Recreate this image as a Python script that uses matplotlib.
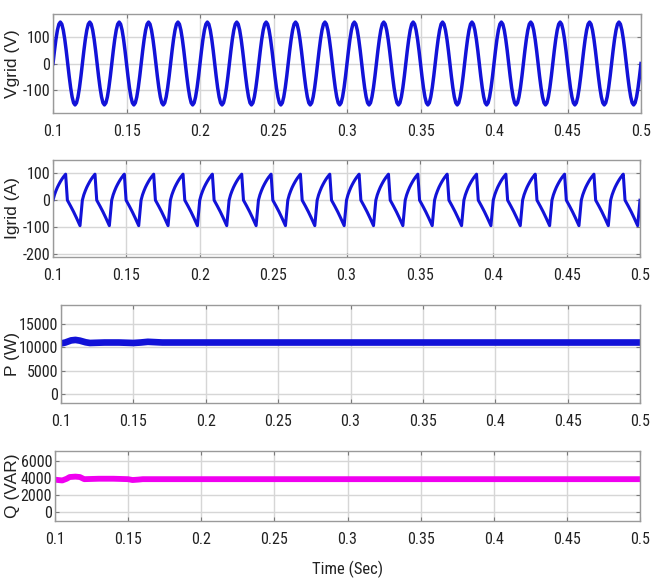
import numpy as np
import matplotlib
matplotlib.use("Agg")
import matplotlib.pyplot as plt
from matplotlib import font_manager

# ---------------- data ----------------
t_start = 0.1
t_end = 0.5
n_cycles = 20
sample_ms = 1.0

# one grid-voltage cycle, sampled every 1 ms (V)
v_cycle = [0, 49, 93, 128, 151, 159, 151, 128, 93, 49,
           0, -49, -93, -128, -151, -159, -151, -128, -93, -49]

# one grid-current cycle: time in ms inside the cycle, value (A)
i_cycle_ms = [0, 1, 2, 3, 4, 5, 6, 7, 8, 8.6, 9.8, 12, 14, 16, 18.4]
i_cycle_val = [0, 20, 35, 48, 59, 69, 78, 86, 93, 97, 0, -22, -43, -66, -95]
cycle_ms = 20.0

# active power (W)
p_t = [0.100, 0.103, 0.107, 0.110, 0.113, 0.117, 0.120, 0.130, 0.140,
       0.150, 0.155, 0.160, 0.170, 0.200, 0.300, 0.400, 0.500]
p_val = [10800, 11000, 11450, 11550, 11400, 11050, 10900, 11000, 11000,
         10900, 11000, 11150, 11000, 11000, 11000, 11000, 11000]

# reactive power (VAR)
q_t = [0.100, 0.102, 0.105, 0.108, 0.110, 0.114, 0.117, 0.120, 0.130,
       0.140, 0.150, 0.153, 0.157, 0.160, 0.200, 0.300, 0.400, 0.500]
q_val = [3850, 3800, 3750, 3950, 4150, 4200, 4150, 3900, 3950,
         3950, 3900, 3800, 3850, 3900, 3900, 3900, 3900, 3900]

x_ticks = [0.1, 0.15, 0.2, 0.25, 0.3, 0.35, 0.4, 0.45, 0.5]
x_tick_labels = ["0.1", "0.15", "0.2", "0.25", "0.3", "0.35", "0.4", "0.45", "0.5"]
v_ticks = [-100, 0, 100]
i_ticks = [-200, -100, 0, 100]
p_ticks = [0, 5000, 10000, 15000]
q_ticks = [0, 2000, 4000, 6000]

ylabels = ["Vgrid (V)", "Igrid (A)", "P (W)", "Q (VAR)"]
xlabel = "Time (Sec)"

# ---------------- build series ----------------
v_full = np.array(v_cycle * n_cycles + [v_cycle[0]], dtype=float)
v_time = t_start + np.arange(len(v_full)) * sample_ms / 1000.0

i_time, i_full = [], []
for k in range(n_cycles):
    for ms, val in zip(i_cycle_ms, i_cycle_val):
        i_time.append(t_start + (k * cycle_ms + ms) / 1000.0)
        i_full.append(val)
i_time.append(t_end)
i_full.append(i_cycle_val[0])

# ---------------- fonts ----------------
installed = {f.name for f in font_manager.fontManager.ttflist}
condensed = [f for f in font_manager.fontManager.ttflist
             if f.stretch in ("condensed", "semi-condensed", "extra-condensed")
             or "Narrow" in f.name or "Condensed" in f.name]
narrow_names = []
for cand in ["Liberation Sans Narrow", "DejaVu Sans Condensed", "Roboto Condensed",
             "Open Sans Condensed", "Noto Sans Condensed"]:
    if cand in installed:
        narrow_names.append(cand)
use_stretch = None
if not narrow_names:
    for f in condensed:
        narrow_names.append(f.name)
        use_stretch = f.stretch
        break
have_narrow = len(narrow_names) > 0
tick_font = narrow_names[:1] + ["Liberation Sans", "DejaVu Sans"]
label_font = ["Liberation Sans", "DejaVu Sans"]
tick_size = 11.5 if have_narrow else 10

# ---------------- figure ----------------
W, H = 651, 581
fig = plt.figure(figsize=(W / 100, H / 100), dpi=100)
fig.patch.set_facecolor("white")

# axes boxes in pixels: left, right, top, bottom
boxes = [(53, 641, 14, 113), (53, 640, 160, 257), (61, 640, 305, 403), (55, 640, 451, 521)]

blue = "#1212d8"
magenta = "#f000f0"


def make_ax(box):
    l, r, t, b = box
    return fig.add_axes([l / W, 1 - b / H, (r - l) / W, (b - t) / H])


def set_font(txt):
    txt.set_family(tick_font)
    txt.set_fontsize(tick_size)
    if use_stretch:
        txt.set_stretch(use_stretch)


def style(ax, yticks, ylim):
    ax.set_xlim(t_start, t_end)
    ax.set_ylim(*ylim)
    ax.set_xticks(x_ticks)
    ax.set_xticklabels(x_tick_labels)
    ax.set_yticks(yticks)
    ax.set_yticklabels([str(v) for v in yticks])
    ax.grid(True, color="#d6d6d6", linewidth=1.0, linestyle="-")
    ax.set_axisbelow(True)
    for s in ax.spines.values():
        s.set_color("#9a9a9a")
        s.set_linewidth(1.0)
    ax.tick_params(axis="both", direction="in", length=3, color="#7a7a7a",
                   labelcolor="#222222", top=True, right=True)
    ax.tick_params(axis="x", pad=8)
    ax.tick_params(axis="y", pad=2)
    for lab in ax.get_xticklabels() + ax.get_yticklabels():
        set_font(lab)


ax1 = make_ax(boxes[0])
ax1.plot(v_time, v_full, color=blue, linewidth=2.5)
style(ax1, v_ticks, (-190, 190))

ax2 = make_ax(boxes[1])
ax2.plot(i_time, i_full, color=blue, linewidth=2.2)
style(ax2, i_ticks, (-212, 150))

ax3 = make_ax(boxes[2])
ax3.plot(p_t, p_val, color=blue, linewidth=4.8)
style(ax3, p_ticks, (-1900, 19000))

ax4 = make_ax(boxes[3])
ax4.plot(q_t, q_val, color=magenta, linewidth=4.2)
style(ax4, q_ticks, (-1000, 7200))

# y labels (centred on each axes)
for box, lab in zip(boxes, ylabels):
    ymid = (box[2] + box[3]) / 2
    fig.text(13 / W, 1 - ymid / H, lab, rotation=90, ha="center", va="center",
             fontsize=12.5, family=label_font, color="#222222")

xl = fig.text(348 / W, 1 - 569 / H, xlabel, ha="center", va="center",
              color="#222222")
set_font(xl)
xl.set_fontsize(12)

fig.savefig("out.png", dpi=100, facecolor="white")
